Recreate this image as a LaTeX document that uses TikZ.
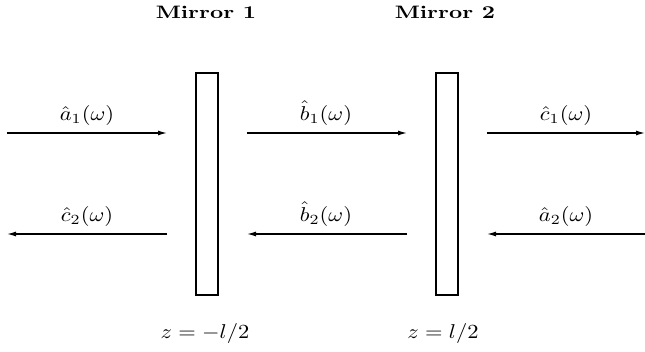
\documentclass[tikz,border=0pt]{standalone}
\usepackage{graphicx}
\usetikzlibrary{arrows.meta}
\tikzset{
  mirror/.style={draw, line width=2pt, minimum width=22pt, minimum height=222pt, inner sep=0pt, outer sep=0pt},
  beam/.style={line width=1.2pt, -{Latex[length=9pt,width=5pt]}},
  lbl/.style={anchor=base, inner sep=0pt},
  title/.style={anchor=base, inner sep=0pt, font=\bfseries},
}
\newcommand{\wx}[1]{\scalebox{2.25}[2.0]{#1}}
\newcommand{\wt}[1]{\scalebox{2.3}[1.8]{#1}}
\begin{document}
\begin{tikzpicture}[x=1pt,y=-1pt]
\useasboundingbox (0,0) rectangle (645,351);
% mirrors
\node[mirror] (m1) at (207,184) {};
\node[mirror] (m2) at (447,184) {};
% titles
\node[title] (t1) at (206,18) {\wt{Mirror 1}};
\node[title] (t2) at (445,18) {\wt{Mirror 2}};
% positions
\node[lbl] (z1) at (205,338) {\wx{$z=-l/2$}};
\node[lbl] (z2) at (443,338) {\wx{$z=l/2$}};
% beam end points
\coordinate (a1s) at (7,133);   \coordinate (a1e) at (167,133);
\coordinate (b1s) at (247,133); \coordinate (b1e) at (407,133);
\coordinate (c1s) at (487,133); \coordinate (c1e) at (645,133);
\coordinate (c2s) at (167,234); \coordinate (c2e) at (7,234);
\coordinate (b2s) at (407,234); \coordinate (b2e) at (247,234);
\coordinate (a2s) at (645,234); \coordinate (a2e) at (487,234);
\draw[beam] (a1s) -- (a1e);
\draw[beam] (b1s) -- (b1e);
\draw[beam] (c1s) -- (c1e);
\draw[beam] (c2s) -- (c2e);
\draw[beam] (b2s) -- (b2e);
\draw[beam] (a2s) -- (a2e);
% labels
\node[lbl] (la1) at (87,120) {\wx{$\hat a_1(\omega)$}};
\node[lbl] (lb1) at (326,120) {\wx{$\hat b_1(\omega)$}};
\node[lbl] (lc1) at (566,120) {\wx{$\hat c_1(\omega)$}};
\node[lbl] (lc2) at (87,221) {\wx{$\hat c_2(\omega)$}};
\node[lbl] (lb2) at (326,221) {\wx{$\hat b_2(\omega)$}};
\node[lbl] (la2) at (566,221) {\wx{$\hat a_2(\omega)$}};
\end{tikzpicture}
\end{document}
